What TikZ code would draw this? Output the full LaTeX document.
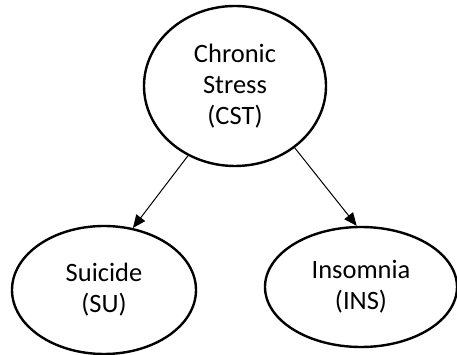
\documentclass[tikz,border=0pt]{standalone}
\usepackage{fontspec}
\setmainfont{Carlito}
\usetikzlibrary{shapes.geometric,arrows.meta}
\begin{document}
\begin{tikzpicture}[x=1pt,y=1pt,
  var/.style={ellipse,draw=black,line width=2.4pt,inner sep=0pt,align=center,
    font=\fontsize{26.5}{31}\selectfont},
  link/.style={line width=1pt,-{Triangle[length=13pt,width=11pt]}}]
  \useasboundingbox (0,0) rectangle (457,355);
  \node[var,minimum width=182pt,minimum height=160pt] (cst) at (235,269) {Chronic\\Stress\\(CST)};
  \node[var,minimum width=184pt,minimum height=128pt] (su) at (104,65) {Suicide\\(SU)};
  \node[var,minimum width=192pt,minimum height=120pt] (ins) at (361,68) {Insomnia\\(INS)};
  \draw[link] (cst.236) -- (su.65);
  \draw[link] (cst.314) -- (ins.94);
\end{tikzpicture}
\end{document}
